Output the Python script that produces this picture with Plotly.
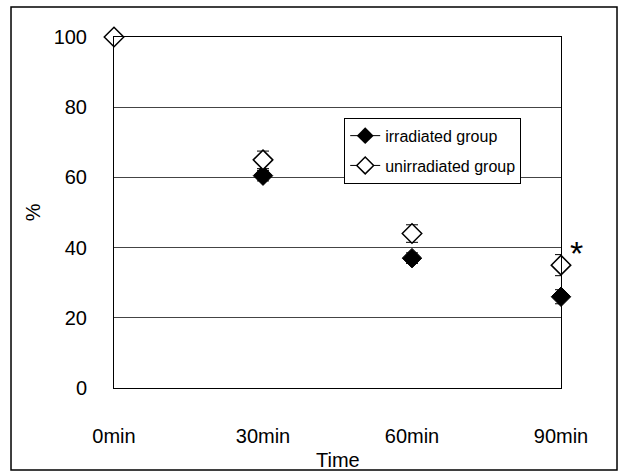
import plotly.graph_objects as go

categories = ["0min", "30min", "60min", "90min"]
irradiated = [100, 60.5, 37, 26]
irradiated_err = [0, 1.5, 1.5, 2]
unirradiated = [100, 65, 44, 35]
unirradiated_err = [0, 2.5, 2.5, 3]
y_ticks = [0, 20, 40, 60, 80, 100]

FONT = "Liberation Sans, Arial, sans-serif"
xpos = list(range(len(categories)))

fig = go.Figure()
fig.add_trace(go.Scatter(
    x=xpos, y=irradiated, mode="markers", showlegend=False,
    marker=dict(symbol="diamond", size=15, color="black", line=dict(color="black", width=1)),
    error_y=dict(type="data", array=irradiated_err, color="black", thickness=1, width=6),
    cliponaxis=False))
fig.add_trace(go.Scatter(
    x=xpos, y=unirradiated, mode="markers", showlegend=False,
    marker=dict(symbol="diamond", size=15, color="white", line=dict(color="black", width=1.5)),
    error_y=dict(type="data", array=unirradiated_err, color="black", thickness=1, width=6),
    cliponaxis=False))
# legend entries (Excel style: line through marker)
fig.add_trace(go.Scatter(
    x=[None], y=[None], mode="lines+markers", name="irradiated group", legendgroup="a",
    line=dict(color="black", width=1),
    marker=dict(symbol="diamond", size=13, color="black")))
fig.add_trace(go.Scatter(
    x=[None], y=[None], mode="lines+markers", name="unirradiated group", legendgroup="b",
    line=dict(color="black", width=1),
    marker=dict(symbol="diamond", size=13, color="white", line=dict(color="black", width=1.5))))

fig.update_layout(
    width=619, height=475,
    margin=dict(l=114, r=58, t=37, b=87),
    paper_bgcolor="white", plot_bgcolor="white",
    font=dict(family=FONT, size=20, color="black"),
    showlegend=True,
    legend=dict(x=0.515, y=0.77, xanchor="left", yanchor="top",
                bgcolor="white", bordercolor="black", borderwidth=1,
                tracegroupgap=6,
                font=dict(size=16, family=FONT)),
    xaxis=dict(range=[0, 3], tickmode="array", tickvals=xpos, ticktext=categories,
               showgrid=False, showline=True, linecolor="black", linewidth=1, mirror=True,
               ticks="", ticklabelstandoff=30, zeroline=False),
    yaxis=dict(range=[0, 100], tickmode="array", tickvals=y_ticks,
               showgrid=True, gridcolor="#444444", gridwidth=1,
               showline=True, linecolor="black", linewidth=1, mirror=True,
               ticks="", ticklabelstandoff=22, zeroline=False),
    annotations=[
        dict(text="Time", xref="paper", yref="paper", x=0.5, y=-0.205, showarrow=False,
             xanchor="center", yanchor="middle", font=dict(size=20)),
        dict(text="%", xref="paper", yref="paper", x=-0.182, y=0.5, showarrow=False,
             textangle=-90, xanchor="center", yanchor="middle", font=dict(size=20)),
        dict(text="*", xref="x", yref="y", x=3, y=38.5, xshift=15, showarrow=False,
             font=dict(size=34)),
    ],
    shapes=[dict(type="rect", xref="paper", yref="paper",
                 x0=-0.2304, x1=1.1253, y0=-0.2336, y1=1.0855,
                 line=dict(color="black", width=1.5))],
)
fig.write_html("out.html", config={"displayModeBar": False},
               post_script="document.body.style.margin='0';document.body.style.overflow='hidden';")
